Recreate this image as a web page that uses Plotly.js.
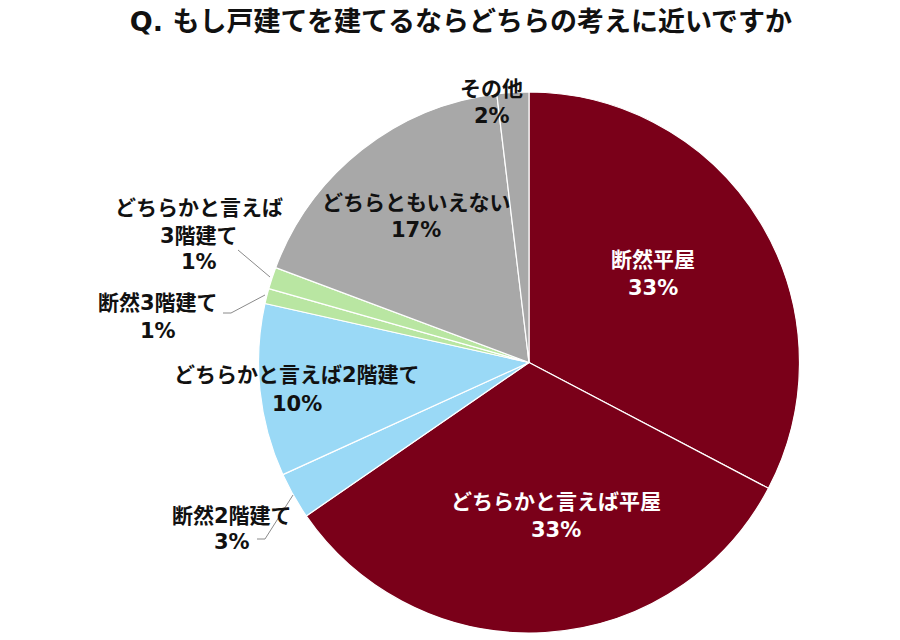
<!DOCTYPE html>
<html><head><meta charset="utf-8">
<script src="https://cdn.plot.ly/plotly-3.0.1.min.js"></script>
<style>html,body{margin:0;padding:0;background:#fff}</style>
</head><body>
<div id="chart" style="width:900px;height:640px"></div>
<script>
const categories = ["断然平屋","どちらかと言えば平屋","断然2階建て","どちらかと言えば2階建て","断然3階建て","どちらかと言えば3階建て","どちらともいえない","その他"];
const values = [32.7, 32.7, 2.8, 10.3, 0.9, 1.3, 17.4, 1.9];
const labelPct = ["33%","33%","3%","10%","1%","1%","17%","2%"];
const colors = ["#7a0019","#7a0019","#9ad9f6","#9ad9f6","#b9e6a2","#b9e6a2","#a8a8a8","#a8a8a8"];

const W = 900, H = 640;
const px = x => x / W, py = y => 1 - y / H;
const FONT = "DejaVu Sans, Noto Sans CJK JP";

// label layout: [category index, lines (texts), center x, line y positions, color]
const labelSpecs = [
  [0, ["断然平屋", labelPct[0]], 653, [260, 288], "#ffffff"],
  [1, ["どちらかと言えば平屋", labelPct[1]], 556, [502, 530], "#ffffff"],
  [3, ["どちらかと言えば2階建て", labelPct[3]], 297, [375, 404], "#111111"],
  [6, ["どちらともいえない", labelPct[6]], 416, [203, 230], "#111111"],
  [7, ["その他", labelPct[7]], 492, [89, 116], "#111111"],
  [5, ["どちらかと言えば", "3階建て", labelPct[5]], 199, [208, 236, 262], "#111111"],
  [4, ["断然3階建て", labelPct[4]], 158, [303, 331], "#111111"],
  [2, ["断然2階建て", labelPct[2]], 232, [516, 542], "#111111"]
];
const annotations = [];
labelSpecs.forEach(s => {
  s[1].forEach((t, i) => {
    annotations.push({
      text: "<b>" + t + "</b>", x: px(s[2]), y: py(s[3][i]),
      xref: "paper", yref: "paper", xanchor: "center", yanchor: "middle",
      showarrow: false, font: {family: FONT, size: 21, color: s[4]}
    });
  });
});

const leader = pts => ({
  type: "path", xref: "paper", yref: "paper",
  path: pts.map((p, i) => (i ? "L" : "M") + px(p[0]) + "," + py(p[1])).join(" "),
  line: {color: "#8a8a8a", width: 1}
});
const shapes = [
  leader([[238, 250], [270, 277]]),
  leader([[223, 313], [231, 313], [265, 295]]),
  leader([[257, 539], [265, 539], [293, 495]])
];

const trace = {
  type: "pie", labels: categories, values: values, sort: false,
  direction: "clockwise", rotation: 0, textinfo: "none", hoverinfo: "label+percent",
  marker: {colors: colors, line: {color: "#ffffff", width: 1.2}},
  domain: {x: [px(258), px(800)], y: [py(633), py(92)]},
  showlegend: false
};

const layout = {
  width: W, height: H,
  margin: {l: 0, r: 0, t: 0, b: 0},
  paper_bgcolor: "#ffffff",
  title: {text: "<b>Q. もし戸建てを建てるならどちらの考えに近いですか</b>",
          x: px(461), xanchor: "center", y: py(22), yanchor: "middle", yref: "container",
          font: {family: FONT, size: 27, color: "#111111"}},
  annotations: annotations,
  shapes: shapes
};
Plotly.newPlot("chart", [trace], layout, {displayModeBar: false});
</script>
</body></html>
